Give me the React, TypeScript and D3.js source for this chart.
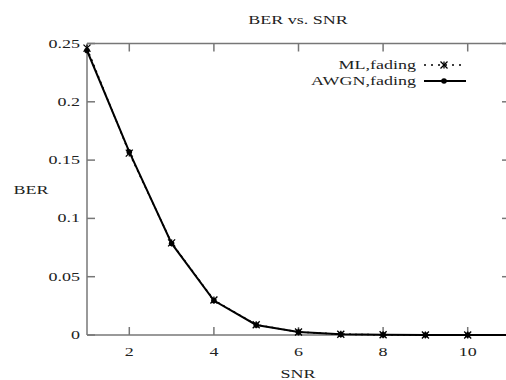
import React from "react";
import * as d3 from "d3";

const snr = [1, 2, 3, 4, 5, 6, 7, 8, 9, 10, 11];
const berML = [0.246, 0.156, 0.079, 0.030, 0.0088, 0.0026, 0.0007, 0.0002, 0.00005, 0.00001, 0.000003];
const berAWGN = [0.244, 0.157, 0.0785, 0.0295, 0.0086, 0.0025, 0.0006, 0.00015, 0.00004, 0.00001, 0.000002];
const xTicks = [2, 4, 6, 8, 10];
const yTicks = [0, 0.05, 0.1, 0.15, 0.2, 0.25];
const yTickLabels = ["0", "0.05", "0.1", "0.15", "0.2", "0.25"];
const seriesNames = ["ML,fading", "AWGN,fading"];

const FONT = "'Liberation Serif', 'Times New Roman', serif";
const SX = 1.5;

function T({ x, y, anchor = "start", children }: any) {
  return (
    <text
      transform={`translate(${x},${y}) scale(${SX},1)`}
      textAnchor={anchor}
      fontFamily={FONT}
      fontSize={12}
      fill="#222"
    >
      {children}
    </text>
  );
}

function Star({ x, y }: { x: number; y: number }) {
  const s = 3.5;
  return (
    <g stroke="#000" strokeWidth={1.3}>
      <line x1={x - s} y1={y - s} x2={x + s} y2={y + s} />
      <line x1={x - s} y1={y + s} x2={x + s} y2={y - s} />
      <line x1={x} y1={y - s} x2={x} y2={y + s} />
    </g>
  );
}

export default function App() {
  const x = d3.scaleLinear().domain([1, 11]).range([87, 510]);
  const y = d3.scaleLinear().domain([0, 0.25]).range([335, 43.5]);
  const line = d3
    .line<number>()
    .x((_, i) => x(snr[i]))
    .y((d) => y(d));
  const axisColor = "#777";
  const tick = 8;
  const x0 = x(1), x1 = x(11), y0 = y(0), y1 = y(0.25);

  return (
    <svg
      width={506}
      height={380}
      style={{ position: "absolute", left: 0, top: 0, background: "#fff" }}
    >
      <rect x={0} y={0} width={506} height={380} fill="#fff" />
      {/* frame */}
      <g stroke={axisColor} strokeWidth={1.5} fill="none">
        <line x1={x0} y1={y0} x2={x1} y2={y0} />
        <line x1={x0} y1={y1} x2={x1} y2={y1} />
        <line x1={x0} y1={y0} x2={x0} y2={y1} />
        <line x1={x1} y1={y0} x2={x1} y2={y1} />
        {xTicks.map((t) => (
          <g key={"xt" + t}>
            <line x1={x(t)} y1={y0} x2={x(t)} y2={y0 - tick} />
            <line x1={x(t)} y1={y1} x2={x(t)} y2={y1 + tick} />
          </g>
        ))}
        {yTicks.map((t) => (
          <g key={"yt" + t}>
            <line x1={x0} y1={y(t)} x2={x0 + tick} y2={y(t)} />
            <line x1={x1} y1={y(t)} x2={x1 - tick} y2={y(t)} />
          </g>
        ))}
      </g>
      {/* tick labels */}
      {xTicks.map((t) => (
        <T key={"xl" + t} x={x(t)} y={356} anchor="middle">
          {String(t)}
        </T>
      ))}
      {yTicks.map((t, i) => (
        <T key={"yl" + t} x={80} y={y(t) + 4} anchor="end">
          {yTickLabels[i]}
        </T>
      ))}
      <T x={298} y={24} anchor="middle">BER vs. SNR</T>
      <T x={298} y={378} anchor="middle">SNR</T>
      <T x={31} y={194} anchor="middle">BER</T>

      {/* series */}
      <path d={line(berML) || ""} fill="none" stroke="#000" strokeWidth={1.5} strokeDasharray="2,4" />
      <path d={line(berAWGN) || ""} fill="none" stroke="#000" strokeWidth={2} />
      {berML.map((v, i) => (
        <Star key={"m" + i} x={x(snr[i])} y={y(v)} />
      ))}
      {berAWGN.map((v, i) => (
        <circle key={"a" + i} cx={x(snr[i])} cy={y(v)} r={2.8} fill="#000" />
      ))}

      {/* legend */}
      <T x={416} y={69} anchor="end">{seriesNames[0]}</T>
      <line x1={424} y1={65} x2={466} y2={65} stroke="#000" strokeWidth={1.5} strokeDasharray="2,5" />
      <Star x={444} y={65} />
      <T x={416} y={85} anchor="end">{seriesNames[1]}</T>
      <line x1={424} y1={81} x2={466} y2={81} stroke="#000" strokeWidth={2} />
      <circle cx={444} cy={81} r={2.8} fill="#000" />
    </svg>
  );
}
